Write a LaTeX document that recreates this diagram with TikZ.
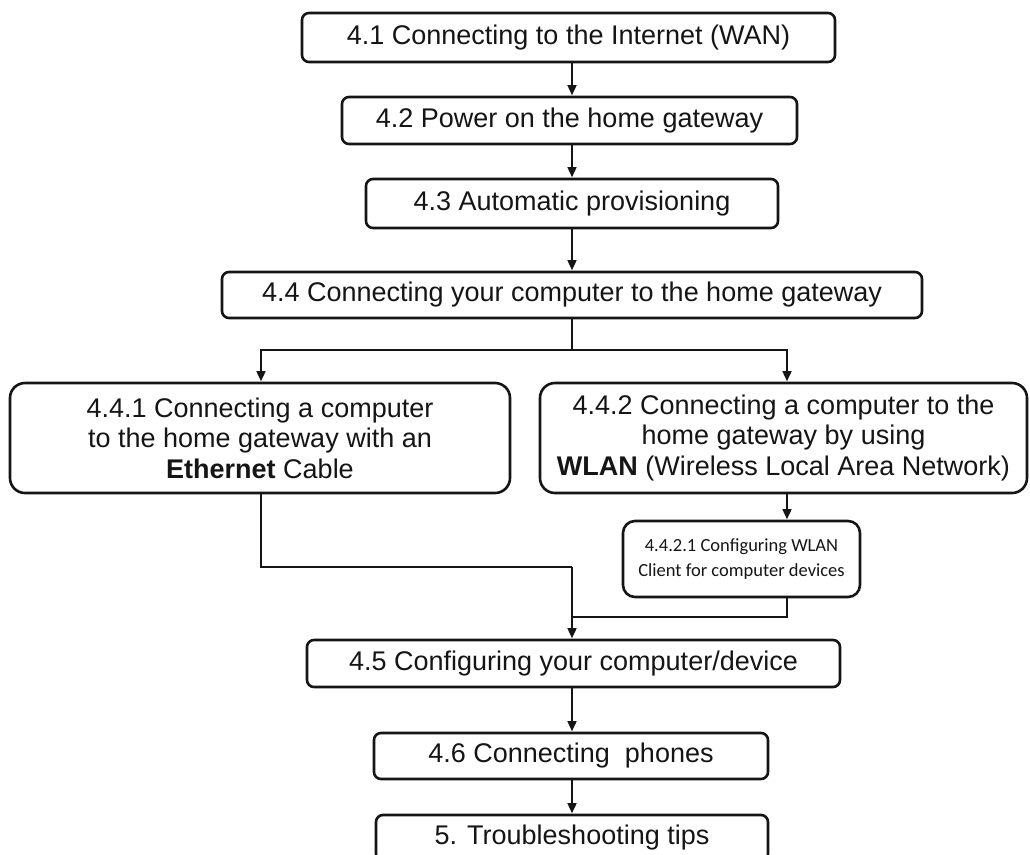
\documentclass[tikz,border=0pt]{standalone}
\usepackage{fontspec}
\setmainfont{Liberation Sans}
\newfontfamily\calfont{Carlito}
\usetikzlibrary{arrows.meta}
\definecolor{ink}{HTML}{151515}
\tikzset{
  stepbox/.style={draw=ink, line width=2.6pt, rounded corners=7pt, inner sep=0pt,
    align=center, text=ink, font=\fontsize{27}{30}\selectfont},
  bigbox/.style={stepbox, rounded corners=15pt, font=\fontsize{27}{30.5}\selectfont},
  smallbox/.style={stepbox, rounded corners=12pt, font=\calfont\fontsize{18.5}{25}\selectfont},
  conn/.style={draw=ink, line width=1.5pt},
  arr/.style={conn, -{Triangle[length=10pt,width=9pt]}, shorten >=0.5pt}
}
\begin{document}
\begin{tikzpicture}[x=1pt,y=-1pt]
\useasboundingbox (0,0) rectangle (1030,854);
\clip (0,0) rectangle (1030,854);
\fill[white] (0,0) rectangle (1030,854);

\node[stepbox, minimum width=533pt, minimum height=49pt] (n41) at (568.5,37.5) {4.1 Connecting to the Internet (WAN)};
\node[stepbox, minimum width=455pt, minimum height=47pt] (n42) at (569.5,120.5) {4.2 Power on the home gateway};
\node[stepbox, minimum width=412pt, minimum height=49pt] (n43) at (572,203.5) {4.3 Automatic provisioning};
\node[stepbox, minimum width=700pt, minimum height=46pt] (n44) at (572,295) {4.4 Connecting your computer to the home gateway};

\node[bigbox, minimum width=500pt, minimum height=110pt] (n441) at (260,438)
  {4.4.1 Connecting a computer\\to the home gateway with an\\\textbf{Ethernet} Cable};
\node[bigbox, minimum width=487pt, minimum height=110pt] (n442) at (783.5,438)
  {4.4.2 Connecting a computer to the\\home gateway by using\\\textbf{WLAN} (Wireless Local Area Network)};
\node[smallbox, minimum width=237pt, minimum height=76pt] (n4421) at (741.5,559)
  {4.4.2.1 Configuring WLAN\\Client for computer devices};

\node[stepbox, minimum width=533pt, minimum height=47pt] (n45) at (573.5,663.5) {4.5 Configuring your computer/device};
\node[stepbox, minimum width=394pt, minimum height=46pt] (n46) at (571,756) {4.6 Connecting\ \ phones};
\node[stepbox, minimum width=392pt, minimum height=46pt] (n5) at (572,838) {5. Troubleshooting tips};

\coordinate (col) at (572,0);
\coordinate (sp) at (572,350);
\coordinate (spR) at (787,350);
\coordinate (spL) at (261,350);
\coordinate (j1) at (572,567);
\coordinate (j2) at (572,617);

\draw[arr] (n41.south -| col) -- (n42.north -| col);
\draw[arr] (n42.south -| col) -- (n43.north -| col);
\draw[arr] (n43.south -| col) -- (n44.north -| col);
\draw[conn] (n44.south -| col) -- (sp);
\draw[arr] (sp) -- (spL) -- (spL |- n441.north);
\draw[arr] (sp) -- (spR) -- (spR |- n442.north);
\draw[arr] (spR |- n442.south) -- (spR |- n4421.north);
\draw[conn] (spL |- n441.south) |- (j1);
\draw[conn] (spR |- n4421.south) |- (j2);
\draw[arr] (j1) -- (n45.north -| j1);
\draw[arr] (n45.south -| col) -- (n46.north -| col);
\draw[arr] (n46.south -| col) -- (n5.north -| col);
\end{tikzpicture}
\end{document}
